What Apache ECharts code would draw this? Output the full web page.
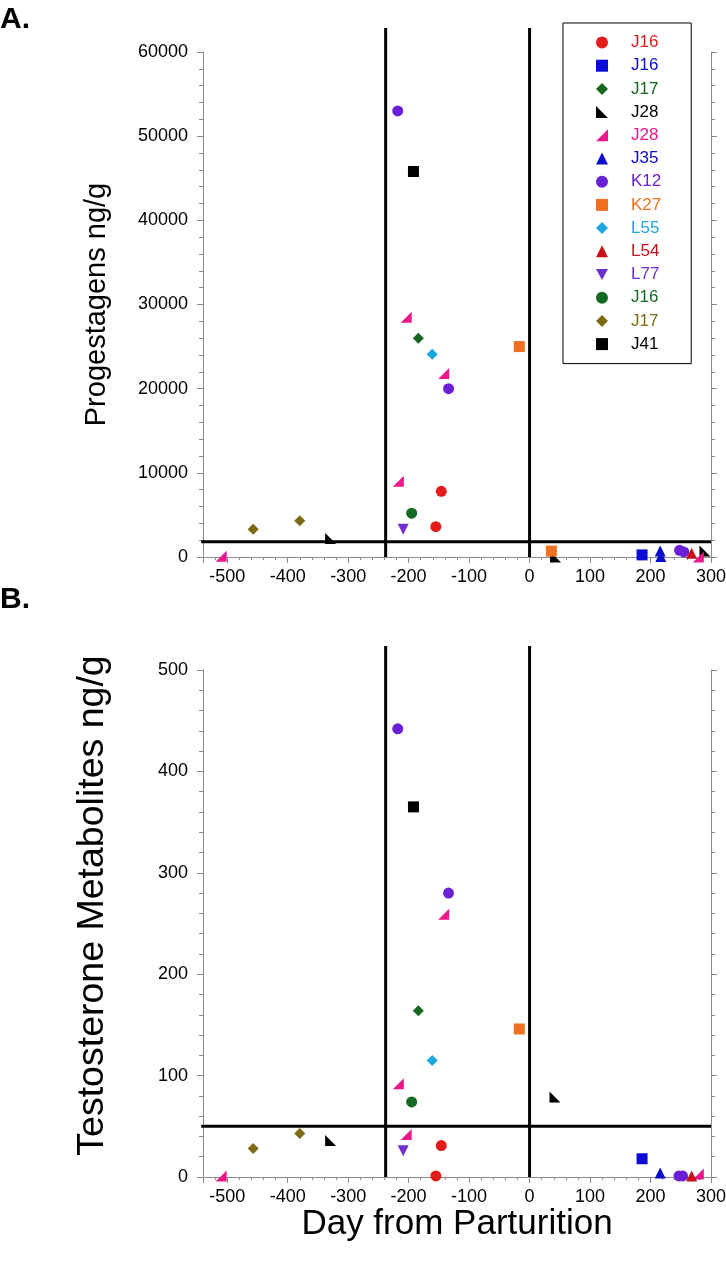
<!DOCTYPE html>
<html><head><meta charset="utf-8">
<script src="https://cdn.jsdelivr.net/npm/echarts@6/dist/echarts.min.js"></script>
<style>html,body{margin:0;padding:0;background:#fff}#c{width:726px;height:1268px}</style>
</head><body><div id="c"></div>
<script>
// ---------- data ----------
const legendLabels = ['J16','J16','J17','J28','J28','J35','K12','K27','L55','L54','L77','J16','J17','J41'];
const dayTicks  = [-500,-400,-300,-200,-100,0,100,200,300];
const progTicks = [0,10000,20000,30000,40000,50000,60000];
const testTicks = [0,100,200,300,400,500];
const refDays = [-238, 0];
const progThreshold = 1800;
const testThreshold = 50;

// Panel A: progestagens ng/g, [day, value]
const progJ16red     = [[-146,7800],[-155,3600]];
const progJ16blue    = [[186,250]];
const progJ17green   = [[-184,26000]];
const progJ28black   = [[-329,2200],[43,0],[290,700]];
const progJ28pink    = [[-510,100],[-217,9000],[-204,28500],[-142,21800],[279,0]];
const progJ35        = [[216,700],[217,50]];
const progK12        = [[-218,53000],[-134,20000],[248,800],[255,600]];
const progK27        = [[-17,25000],[36,700]];
const progL55        = [[-161,24100]];
const progL54        = [[268,450]];
const progL77        = [[-209,3300]];
const progJ16dkgreen = [[-195,5200]];
const progJ17olive   = [[-457,3300],[-380,4300]];
const progJ41        = [[-192,45800]];

// Panel B: testosterone metabolites ng/g, [day, value]
const testJ16red     = [[-146,31],[-155,1]];
const testJ16blue    = [[186,18]];
const testJ17green   = [[-184,164]];
const testJ28black   = [[-329,36],[42,79]];
const testJ28pink    = [[-510,1],[-217,92],[-204,42],[-142,259],[279,3]];
const testJ35        = [[216,4]];
const testK12        = [[-218,442],[-134,280],[247,1],[253,1]];
const testK27        = [[-17,146]];
const testL55        = [[-161,115]];
const testL54        = [[268,1]];
const testL77        = [[-209,26]];
const testJ16dkgreen = [[-195,74]];
const testJ17olive   = [[-457,28],[-380,43]];
const testJ41        = [[-192,365]];

// ---------- styles ----------
const progSets = [progJ16red,progJ16blue,progJ17green,progJ28black,progJ28pink,progJ35,progK12,progK27,progL55,progL54,progL77,progJ16dkgreen,progJ17olive,progJ41];
const testSets = [testJ16red,testJ16blue,testJ17green,testJ28black,testJ28pink,testJ35,testK12,testK27,testL55,testL54,testL77,testJ16dkgreen,testJ17olive,testJ41];
const TRI_BL = 'path://M0,0 L0,10 L10,10 Z';
const TRI_BR = 'path://M10,0 L10,10 L0,10 Z';
const TRI_DN = 'path://M0,0 L10,0 L5,9 Z';
const symbols = ['circle','rect','diamond',TRI_BL,TRI_BR,'triangle','circle','rect','diamond','triangle',TRI_DN,'circle','diamond','rect'];
const colors  = ['#e31b1b','#0b0bd6','#17661f','#000000','#ec178a','#0b0bcc','#6a20d4','#f07020','#1aa6e0','#c8101a','#7030d0','#136a20','#7d6a14','#000000'];
const sizes   = [11,11,11,11,11,11,11,11,11,11,11,11,11,11];

const FONT = 'Liberation Sans, Arial, Helvetica, sans-serif';
const AXIS_GRAY = '#8a8a8a';
const keys = legendLabels.map((l,i)=> l + '#' + i);

const gA = {left:203, right:15, top:52, bottom:711};
const gB = {left:203, right:15, top:670, bottom:91};
const EXT = 24;
const hA = 1268 - gA.top - gA.bottom, hB = 1268 - gB.top - gB.bottom;
const progMax = 60000, testMax = 500;
const progOver = progMax * (hA + EXT) / hA;
const testOver = testMax * (hB + EXT) / hB;
const xMin = -540, xMax = 300;

function mainX(gridIndex, withName){
  return {
    type:'value', gridIndex, min:xMin, max:xMax, minInterval:100, maxInterval:100, splitNumber:8,
    axisLine:{show:true, onZero:false, lineStyle:{color:AXIS_GRAY, width:1}},
    axisTick:{show:true, length:6, lineStyle:{color:AXIS_GRAY}},
    splitLine:{show:false},
    axisLabel:{color:'#000', fontSize:18, fontFamily:FONT, margin:11,
      formatter: v => dayTicks.includes(v) ? String(v) : ''},
    name: withName ? 'Day from Parturition' : '', nameLocation:'middle', nameGap:27,
    nameTextStyle:{color:'#000', fontSize:35, fontFamily:FONT}
  };
}
function minorX(gridIndex){
  return {type:'value', gridIndex, min:xMin, max:xMax, interval:20,
    axisLine:{show:false, onZero:false}, axisTick:{show:true, length:3, lineStyle:{color:AXIS_GRAY}},
    axisLabel:{show:false}, splitLine:{show:false}};
}
function mainY(gridIndex, max, interval, ticks, name, pos, nameSize, namePad, nameGap){
  const left = pos === 'left';
  return {
    type:'value', gridIndex, position:pos, min:0, max, interval,
    axisLine:{show:true, onZero:false, lineStyle:{color:AXIS_GRAY, width:1}},
    axisTick:{show:true, length:6, lineStyle:{color:AXIS_GRAY}},
    minorTick:{show:true, splitNumber:5, length:4, lineStyle:{color:AXIS_GRAY}},
    splitLine:{show:false},
    axisLabel:{show:left, color:'#000', fontSize:18, fontFamily:FONT, margin:15,
      formatter: v => ticks.includes(v) ? String(v) : ''},
    name: left ? name : '', nameLocation:'middle', nameGap:nameGap || 92,
    nameTextStyle:{color:'#000', fontSize:nameSize || 29, fontFamily:FONT, padding:namePad || 0}
  };
}
function overY(gridIndex, max){
  return {type:'value', gridIndex, min:0, max, show:false, axisLine:{onZero:false}};
}

const series = [];
keys.forEach((k,i)=>{
  series.push({type:'scatter', name:k, xAxisIndex:0, yAxisIndex:0, data:progSets[i],
    symbol:symbols[i], symbolSize:sizes[i], itemStyle:{color:colors[i], opacity:1}, z:5});
  series.push({type:'scatter', name:k, xAxisIndex:2, yAxisIndex:3, data:testSets[i],
    symbol:symbols[i], symbolSize:sizes[i], itemStyle:{color:colors[i], opacity:1}, z:5});
});
function refLines(xi, yi, top, thr){
  const lines = refDays.map(d => [[d,0],[d,top]]);
  lines.push([[xMin - 3, thr],[xMax, thr]]);
  lines.forEach(seg => series.push({type:'line', xAxisIndex:xi, yAxisIndex:yi, data:seg,
    showSymbol:false, symbol:'none', lineStyle:{color:'#000', width:3}, clip:false, silent:true, z:2}));
}
refLines(1, 2, progOver, progThreshold);
refLines(3, 5, testOver, testThreshold);

const option = {
  backgroundColor:'#fff',
  animation:false,
  title:[
    {text:'A.', left:0, top:5, padding:0, textStyle:{fontSize:30, fontWeight:'bold', color:'#000', fontFamily:FONT}},
    {text:'B.', left:0, top:585, padding:0, textStyle:{fontSize:30, fontWeight:'bold', color:'#000', fontFamily:FONT}}
  ],
  grid:[
    Object.assign({outerBoundsMode:'none'}, gA),
    {outerBoundsMode:'none', left:gA.left, right:gA.right, top:gA.top-EXT, bottom:gA.bottom},
    Object.assign({outerBoundsMode:'none'}, gB),
    {outerBoundsMode:'none', left:gB.left, right:gB.right, top:gB.top-EXT, bottom:gB.bottom}
  ],
  xAxis:[mainX(0,false), minorX(1), mainX(2,true), minorX(3)],
  yAxis:[
    mainY(0, progMax, 10000, progTicks, 'Progestagens ng/g', 'left', 29),
    mainY(0, progMax, 10000, progTicks, '', 'right'),
    overY(1, progOver),
    mainY(2, testMax, 100, testTicks, 'Testosterone Metabolites ng/g', 'left', 37.5, [0,0,0,36], 91),
    mainY(2, testMax, 100, testTicks, '', 'right'),
    overY(3, testOver)
  ],
  legend:{
    orient:'vertical', left:563, top:23, padding:[11,30,11,33], itemGap:6.2,
    itemWidth:12, itemHeight:12, borderColor:'#000', borderWidth:1, backgroundColor:'#fff',
    selectedMode:false, z:20,
    formatter: n => n.split('#')[0],
    textStyle:{fontSize:17, fontFamily:FONT, lineHeight:12, width:30, padding:[0,0,0,18]},
    data: keys.map((k,i)=>({name:k, textStyle:{color:colors[i]}}))
  },
  series
};
const chart = echarts.init(document.getElementById('c'), null, {renderer:'canvas'});
chart.setOption(option);
</script>
</body></html>
